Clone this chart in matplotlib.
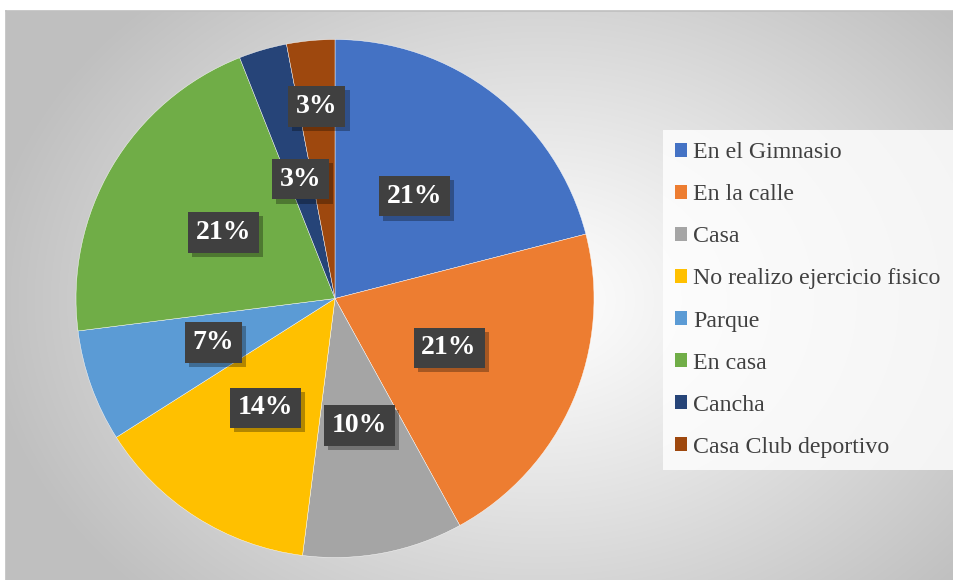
import numpy as np
import matplotlib
matplotlib.use("Agg")
import matplotlib.pyplot as plt
from matplotlib.patches import Patch
from matplotlib.lines import Line2D
import matplotlib.patheffects as pe

categories = ["En el Gimnasio", "En la calle", "Casa", "No realizo ejercicio fisico",
              "Parque", "En casa", "Cancha", "Casa Club deportivo"]
values = [21, 21, 10, 14, 7, 21, 3, 3]
pct_labels = ["21%", "21%", "10%", "14%", "7%", "21%", "3%", "3%"]
colors = ["#4472C4", "#ED7D31", "#A5A5A5", "#FFC000", "#5B9BD5", "#70AD47", "#264478", "#9E480E"]
label_dist = [0.5, 0.48, 0.5, 0.5, 0.5, 0.5, 0.48, 0.745]

W, H = 954, 580
fig = plt.figure(figsize=(W / 100, H / 100), dpi=100)
fig.patch.set_facecolor("white")

# background chart area with radial gradient
x0, ytop = 6, 11
bg = fig.add_axes([x0 / W, 0, 1 - x0 / W, (H - ytop) / H])
bw, bh = W - x0, H - ytop
yy, xx = np.mgrid[0:bh, 0:bw]
cx, cy = 540 - x0, 300 - ytop
d = np.sqrt(((xx - cx) / 560.0) ** 2 + ((yy - cy) / 420.0) ** 2)
d = np.clip(d, 0, 1)
val = 1.0 - 0.25 * d ** 1.1
img = np.dstack([val, val, val])
bg.imshow(img, extent=[0, bw, bh, 0], aspect="auto", interpolation="bilinear")
bg.set_xlim(0, bw)
bg.set_ylim(bh, 0)
bg.axis("off")
fig.add_artist(Line2D([x0 / W, x0 / W], [0, (H - ytop) / H], color="#bfbfbf", lw=1.2, transform=fig.transFigure))
fig.add_artist(Line2D([x0 / W, 1], [(H - ytop) / H, (H - ytop) / H], color="#bfbfbf", lw=1.2, transform=fig.transFigure))

# pie
pcx, pcy, r = 335, H - 298.5, 259
ax = fig.add_axes([(pcx - r) / W, (pcy - r) / H, 2 * r / W, 2 * r / H])
wedges, _ = ax.pie(values, colors=colors, startangle=90, counterclock=False, radius=1,
                   wedgeprops=dict(edgecolor="white", linewidth=0.3))
ax.set_xlim(-1, 1)
ax.set_ylim(-1, 1)
ax.set_aspect("equal")
ax.axis("off")

for w, lab, dist in zip(wedges, pct_labels, label_dist):
    th = np.deg2rad((w.theta1 + w.theta2) / 2)
    lx, ly = dist * np.cos(th), dist * np.sin(th)
    t = ax.text(lx, ly, lab, ha="center", va="center", fontsize=20, fontweight="bold",
                family="Liberation Serif", color="white",
                bbox=dict(boxstyle="square,pad=0.28", facecolor="#404040", edgecolor="none"))
    t.get_bbox_patch().set_path_effects([
        pe.SimplePatchShadow(offset=(3, -3), shadow_rgbFace="black", alpha=0.3), pe.Normal()])

handles = [Patch(facecolor=c, edgecolor="none") for c in colors]
leg = fig.legend(handles, categories, loc="upper left", bbox_to_anchor=(663 / W, 1 - 130 / H),
                 prop=dict(family="Liberation Serif", size=17.2), frameon=True, fancybox=False,
                 handlelength=0.5, handleheight=0.5, handletextpad=0.24, labelspacing=0.88,
                 borderpad=0.52, borderaxespad=0)
leg.get_frame().set_facecolor((1, 1, 1, 0.55))
leg.get_frame().set_edgecolor("none")
for t in leg.get_texts():
    t.set_color("#404040")

fig.savefig("out.png", dpi=100)
